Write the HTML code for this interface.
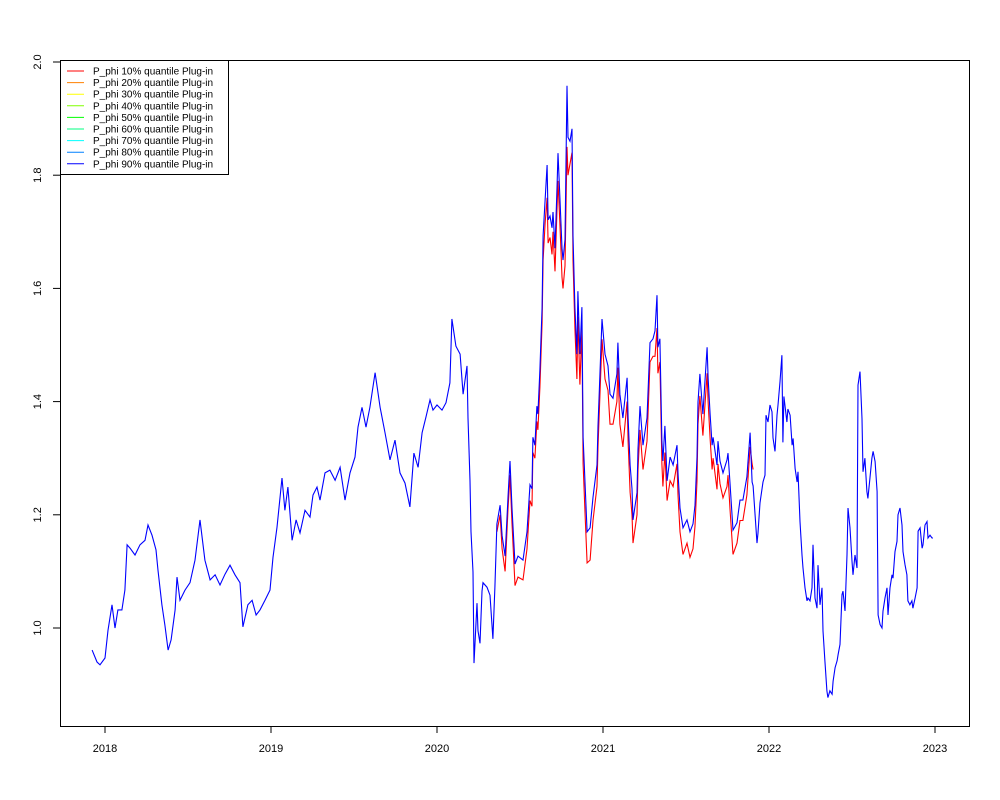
<!DOCTYPE html>
<html><head><meta charset="utf-8"><title>P_phi quantiles</title>
<style>
html,body{margin:0;padding:0;background:#fff;}
svg{display:block;font-family:"Liberation Sans",Arial,sans-serif;}
</style></head>
<body>
<svg id="chart" width="1000" height="800" viewBox="0 0 1000 800">
<rect x="0" y="0" width="1000" height="800" fill="#fff"/>
<g id="series"></g>
<rect x="60.5" y="60.5" width="909" height="666" fill="none" stroke="#000" stroke-width="1"/>
<g id="xaxis"></g>
<g id="yaxis"></g>
<g id="legend"></g>
</svg>
<script>
const xTicks = [2018, 2019, 2020, 2021, 2022, 2023];
const yTicks = [1.0, 1.2, 1.4, 1.6, 1.8, 2.0];
const yTickLabels = ["1.0", "1.2", "1.4", "1.6", "1.8", "2.0"];
const legendLabels = ["P_phi 10% quantile Plug-in","P_phi 20% quantile Plug-in","P_phi 30% quantile Plug-in","P_phi 40% quantile Plug-in","P_phi 50% quantile Plug-in","P_phi 60% quantile Plug-in","P_phi 70% quantile Plug-in","P_phi 80% quantile Plug-in","P_phi 90% quantile Plug-in"];
const legendColors = ["#ff0000","#ff8000","#ffff00","#80ff00","#00ff00","#00ff80","#00ffff","#0080ff","#0000ff"];

const blueT = [2017.922,2017.952,2017.970,2018.000,2018.018,2018.042,2018.060,2018.078,2018.102,2018.120,2018.133,2018.151,2018.181,2018.211,2018.241,2018.259,2018.283,2018.307,2018.319,2018.343,2018.361,2018.380,2018.398,2018.422,2018.434,2018.452,2018.482,2018.512,2018.542,2018.572,2018.602,2018.633,2018.663,2018.693,2018.723,2018.753,2018.783,2018.813,2018.831,2018.861,2018.886,2018.910,2018.934,2018.964,2018.994,2019.012,2019.036,2019.066,2019.084,2019.102,2019.127,2019.151,2019.175,2019.205,2019.235,2019.253,2019.277,2019.295,2019.325,2019.355,2019.386,2019.416,2019.446,2019.476,2019.506,2019.524,2019.548,2019.572,2019.596,2019.627,2019.657,2019.687,2019.717,2019.747,2019.777,2019.807,2019.837,2019.861,2019.886,2019.910,2019.934,2019.958,2019.976,2020.000,2020.030,2020.054,2020.078,2020.090,2020.114,2020.139,2020.157,2020.181,2020.187,2020.199,2020.205,2020.217,2020.223,2020.241,2020.247,2020.259,2020.271,2020.277,2020.301,2020.319,2020.337,2020.349,2020.361,2020.380,2020.392,2020.410,2020.428,2020.440,2020.452,2020.470,2020.488,2020.518,2020.542,2020.560,2020.572,2020.578,2020.590,2020.602,2020.608,2020.620,2020.633,2020.639,2020.651,2020.663,2020.669,2020.681,2020.693,2020.699,2020.711,2020.723,2020.729,2020.741,2020.753,2020.759,2020.771,2020.783,2020.789,2020.801,2020.813,2020.819,2020.831,2020.843,2020.849,2020.861,2020.873,2020.880,2020.892,2020.904,2020.922,2020.940,2020.964,2020.970,2020.994,2021.012,2021.030,2021.042,2021.060,2021.084,2021.090,2021.102,2021.120,2021.145,2021.151,2021.163,2021.175,2021.181,2021.205,2021.211,2021.223,2021.241,2021.265,2021.283,2021.301,2021.313,2021.325,2021.331,2021.343,2021.355,2021.361,2021.373,2021.386,2021.404,2021.422,2021.446,2021.452,2021.464,2021.482,2021.506,2021.524,2021.542,2021.554,2021.566,2021.572,2021.584,2021.602,2021.627,2021.633,2021.645,2021.657,2021.663,2021.687,2021.693,2021.705,2021.723,2021.747,2021.753,2021.765,2021.783,2021.807,2021.825,2021.843,2021.867,2021.886,2021.898,2021.904,2021.928,2021.934,2021.946,2021.964,2021.976,2021.982,2021.994,2022.006,2022.018,2022.024,2022.036,2022.048,2022.054,2022.066,2022.078,2022.084,2022.090,2022.108,2022.114,2022.127,2022.139,2022.145,2022.157,2022.169,2022.175,2022.187,2022.199,2022.205,2022.217,2022.229,2022.235,2022.247,2022.259,2022.265,2022.277,2022.289,2022.295,2022.307,2022.319,2022.325,2022.337,2022.349,2022.355,2022.367,2022.380,2022.386,2022.398,2022.410,2022.416,2022.428,2022.440,2022.446,2022.458,2022.470,2022.476,2022.488,2022.500,2022.506,2022.518,2022.530,2022.536,2022.548,2022.560,2022.566,2022.572,2022.578,2022.590,2022.596,2022.608,2022.620,2022.627,2022.639,2022.651,2022.657,2022.669,2022.681,2022.687,2022.699,2022.711,2022.717,2022.729,2022.741,2022.747,2022.759,2022.771,2022.777,2022.789,2022.801,2022.807,2022.819,2022.831,2022.837,2022.849,2022.861,2022.867,2022.880,2022.892,2022.898,2022.910,2022.922,2022.928,2022.940,2022.952,2022.958,2022.970,2022.982,2022.988,2023.000,2023.012];
const blueV = [0.961,0.940,0.935,0.947,0.996,1.041,1.000,1.032,1.032,1.067,1.147,1.141,1.129,1.147,1.155,1.182,1.164,1.138,1.102,1.041,1.005,0.961,0.979,1.032,1.090,1.049,1.067,1.080,1.120,1.191,1.120,1.085,1.094,1.076,1.095,1.111,1.094,1.080,1.002,1.041,1.049,1.023,1.032,1.049,1.067,1.125,1.178,1.265,1.208,1.249,1.155,1.191,1.168,1.208,1.196,1.235,1.249,1.226,1.274,1.279,1.261,1.284,1.226,1.274,1.302,1.355,1.390,1.355,1.390,1.451,1.390,1.345,1.297,1.332,1.274,1.256,1.214,1.309,1.284,1.345,1.373,1.403,1.385,1.394,1.385,1.398,1.433,1.546,1.498,1.484,1.413,1.463,1.371,1.260,1.170,1.099,0.938,1.044,0.995,0.973,1.065,1.080,1.072,1.058,0.981,1.072,1.184,1.217,1.163,1.127,1.231,1.295,1.212,1.113,1.127,1.120,1.170,1.253,1.246,1.337,1.323,1.392,1.378,1.456,1.567,1.693,1.756,1.818,1.721,1.728,1.707,1.735,1.671,1.777,1.839,1.756,1.671,1.650,1.686,1.958,1.867,1.860,1.882,1.693,1.567,1.484,1.595,1.484,1.567,1.337,1.253,1.170,1.177,1.231,1.288,1.357,1.546,1.484,1.463,1.413,1.406,1.449,1.504,1.413,1.371,1.442,1.371,1.288,1.246,1.191,1.239,1.316,1.392,1.323,1.371,1.504,1.511,1.525,1.588,1.496,1.511,1.330,1.295,1.357,1.260,1.302,1.288,1.323,1.274,1.212,1.177,1.191,1.170,1.184,1.217,1.302,1.399,1.449,1.378,1.496,1.442,1.378,1.323,1.337,1.288,1.330,1.295,1.274,1.297,1.309,1.256,1.173,1.186,1.226,1.226,1.267,1.345,1.258,1.251,1.150,1.168,1.221,1.258,1.270,1.376,1.364,1.394,1.382,1.336,1.312,1.376,1.394,1.435,1.482,1.328,1.409,1.364,1.387,1.376,1.323,1.335,1.282,1.258,1.276,1.188,1.129,1.106,1.071,1.048,1.053,1.048,1.071,1.147,1.053,1.035,1.111,1.041,1.071,0.995,0.942,0.889,0.877,0.889,0.883,0.906,0.930,0.942,0.953,0.971,1.059,1.065,1.030,1.129,1.212,1.177,1.118,1.094,1.129,1.106,1.429,1.453,1.370,1.276,1.288,1.300,1.241,1.229,1.264,1.300,1.312,1.294,1.241,1.023,1.006,1.000,1.030,1.053,1.071,1.023,1.071,1.094,1.088,1.135,1.153,1.200,1.212,1.182,1.135,1.112,1.094,1.048,1.041,1.048,1.035,1.053,1.071,1.171,1.177,1.141,1.147,1.182,1.188,1.159,1.164,1.159,1.159];

const redT = [2020.361,2020.380,2020.392,2020.410,2020.428,2020.440,2020.452,2020.470,2020.488,2020.518,2020.542,2020.560,2020.572,2020.578,2020.590,2020.602,2020.608,2020.620,2020.633,2020.639,2020.651,2020.663,2020.669,2020.681,2020.693,2020.699,2020.711,2020.723,2020.729,2020.741,2020.753,2020.759,2020.771,2020.783,2020.789,2020.801,2020.813,2020.819,2020.831,2020.843,2020.849,2020.861,2020.873,2020.880,2020.892,2020.904,2020.922,2020.940,2020.964,2020.970,2020.994,2021.012,2021.030,2021.042,2021.060,2021.084,2021.090,2021.102,2021.120,2021.145,2021.151,2021.163,2021.175,2021.181,2021.205,2021.211,2021.223,2021.241,2021.265,2021.283,2021.301,2021.313,2021.325,2021.331,2021.343,2021.355,2021.361,2021.373,2021.386,2021.404,2021.422,2021.446,2021.452,2021.464,2021.482,2021.506,2021.524,2021.542,2021.554,2021.566,2021.572,2021.584,2021.602,2021.627,2021.633,2021.645,2021.657,2021.663,2021.687,2021.693,2021.705,2021.723,2021.747,2021.753,2021.765,2021.783,2021.807,2021.825,2021.843,2021.867,2021.886,2021.898,2021.904];
const redV = [1.170,1.200,1.140,1.100,1.210,1.270,1.185,1.075,1.090,1.085,1.140,1.225,1.215,1.310,1.300,1.365,1.350,1.425,1.540,1.650,1.715,1.760,1.680,1.690,1.660,1.700,1.630,1.740,1.790,1.710,1.620,1.600,1.640,1.850,1.800,1.820,1.840,1.650,1.530,1.440,1.550,1.430,1.530,1.290,1.200,1.115,1.120,1.190,1.250,1.320,1.510,1.440,1.420,1.360,1.360,1.400,1.460,1.360,1.320,1.400,1.330,1.240,1.200,1.150,1.200,1.280,1.350,1.280,1.330,1.470,1.480,1.480,1.530,1.450,1.470,1.290,1.250,1.310,1.225,1.260,1.250,1.290,1.235,1.170,1.130,1.150,1.125,1.140,1.180,1.260,1.360,1.410,1.340,1.450,1.400,1.335,1.280,1.300,1.245,1.290,1.255,1.230,1.250,1.270,1.210,1.130,1.150,1.190,1.190,1.235,1.320,1.290,1.280];

const NS = "http://www.w3.org/2000/svg";
function xScale(t){ return 105 + (t - 2018) * 166; }
function yScale(v){ return 628 - (v - 1) * 566; }

const series = document.getElementById('series');
function drawLine(ts, vs, color, name){
  const pl = document.createElementNS(NS, 'polyline');
  let pts = [];
  for (let i = 0; i < ts.length; i++) pts.push(xScale(ts[i]).toFixed(1) + ',' + yScale(vs[i]).toFixed(1));
  pl.setAttribute('points', pts.join(' '));
  pl.setAttribute('fill', 'none');
  pl.setAttribute('stroke', color);
  pl.setAttribute('stroke-width', '1.1');
  
  
  series.appendChild(pl);
}
drawLine(redT, redV, '#ff0000', 'series-10pct-red');
drawLine(blueT, blueV, '#0000ff', 'series-90pct-blue');

const xa = document.getElementById('xaxis');
xTicks.forEach(function(t){
  const x = xScale(t);
  const ln = document.createElementNS(NS, 'line');
  ln.setAttribute('x1', x); ln.setAttribute('x2', x);
  ln.setAttribute('y1', 726); ln.setAttribute('y2', 733);
  ln.setAttribute('stroke', '#000');
  
  
  xa.appendChild(ln);
  const tx = document.createElementNS(NS, 'text');
  tx.setAttribute('x', x); tx.setAttribute('y', 752);
  tx.setAttribute('text-anchor', 'middle');
  tx.setAttribute('font-size', '11');
  tx.textContent = String(t);
  
  
  xa.appendChild(tx);
});

const ya = document.getElementById('yaxis');
yTicks.forEach(function(v, i){
  const y = yScale(v);
  const ln = document.createElementNS(NS, 'line');
  ln.setAttribute('x1', 53); ln.setAttribute('x2', 60);
  ln.setAttribute('y1', y); ln.setAttribute('y2', y);
  ln.setAttribute('stroke', '#000');
  
  
  ya.appendChild(ln);
  const tx = document.createElementNS(NS, 'text');
  tx.setAttribute('x', 0); tx.setAttribute('y', 0);
  tx.setAttribute('text-anchor', 'middle');
  tx.setAttribute('font-size', '11');
  tx.setAttribute('transform', 'translate(41,' + y + ') rotate(-90)');
  tx.textContent = yTickLabels[i];
  
  
  ya.appendChild(tx);
});

const lg = document.getElementById('legend');
const box = document.createElementNS(NS, 'rect');
box.setAttribute('x', 60.5); box.setAttribute('y', 60.5);
box.setAttribute('width', 168); box.setAttribute('height', 114);
box.setAttribute('fill', '#fff'); box.setAttribute('stroke', '#000');


lg.appendChild(box);
legendLabels.forEach(function(lab, i){
  const y = 71 + i * 11.6;
  const ln = document.createElementNS(NS, 'line');
  ln.setAttribute('x1', 67); ln.setAttribute('x2', 84);
  ln.setAttribute('y1', y); ln.setAttribute('y2', y);
  ln.setAttribute('stroke', legendColors[i]);
  
  
  lg.appendChild(ln);
  const tx = document.createElementNS(NS, 'text');
  tx.setAttribute('x', 93); tx.setAttribute('y', y + 3.5);
  tx.setAttribute('font-size', '10');
  tx.textContent = lab;
  
  
  lg.appendChild(tx);
});
</script>
</body></html>
